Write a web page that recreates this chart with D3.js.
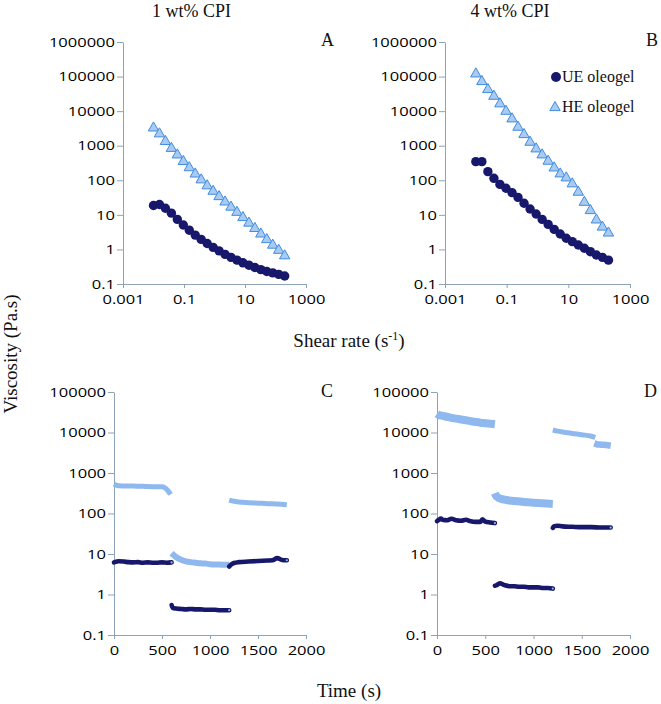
<!DOCTYPE html>
<html><head><meta charset="utf-8">
<script src="https://cdn.jsdelivr.net/npm/d3@7"></script>
<style>body{margin:0;background:#fff}</style>
</head><body>
<svg id="chart" width="661" height="704"></svg>
<script>
// ---------- DATA ----------
const shearRate = [0.01, 0.0157, 0.0246, 0.0386, 0.0605, 0.095, 0.149, 0.2335, 0.366, 0.575, 0.902, 1.414, 2.218, 3.479, 5.458, 8.562, 13.43, 21.06, 33.04, 51.83, 81.28, 127.5, 200];
const ue1 = [18.6, 20, 15.5, 11.2, 7.4, 5.1, 3.6, 2.6, 1.95, 1.48, 1.15, 0.91, 0.72, 0.59, 0.49, 0.41, 0.35, 0.30, 0.26, 0.23, 0.21, 0.19, 0.17];
const he1 = [3390, 2290, 1380, 870, 562, 363, 240, 158, 107, 72, 50, 35, 24.5, 17.4, 12.3, 8.7, 6.0, 4.2, 2.9, 2.0, 1.38, 0.98, 0.68];
const ue4 = [346, 346, 178, 114, 76, 59, 44, 32, 21.6, 14.8, 10.6, 7.4, 5.3, 3.8, 2.8, 2.1, 1.68, 1.34, 1.08, 0.86, 0.69, 0.59, 0.49];
const he4 = [124000, 74600, 43800, 28000, 16900, 10300, 6200, 3560, 2180, 1310, 840, 564, 370, 237, 159, 122, 82, 47, 24, 13.8, 7.4, 4.6, 3.1];

// time sweeps (panel C, 1 wt%)
const tC_he1 = [0, 20, 50, 100, 150, 200, 250, 300, 350, 400, 450, 500, 530, 560, 590];
const vC_he1 = [530, 500, 485, 480, 478, 476, 472, 468, 462, 458, 455, 455, 430, 370, 295];
const tC_he2 = [600, 620, 650, 700, 750, 800, 850, 900, 950, 1000, 1050, 1100, 1150, 1200];
const vC_he2 = [10.5, 9.5, 8.3, 7.2, 6.6, 6.3, 6.1, 5.9, 5.8, 5.6, 5.5, 5.5, 5.4, 5.4];
const tC_he3 = [1200, 1250, 1300, 1400, 1500, 1600, 1700, 1800];
const vC_he3 = [215, 200, 192, 185, 180, 175, 172, 165];
const tC_ue1 = [0, 50, 100, 150, 200, 250, 300, 350, 400, 450, 500, 550, 600];
const vC_ue1 = [6.2, 6.6, 6.5, 6.3, 6.2, 6.3, 6.1, 6.2, 6.1, 6.1, 6.2, 6.1, 6.2];
const tC_ue2 = [600, 610, 650, 700, 750, 800, 850, 900, 950, 1000, 1050, 1100, 1150, 1200];
const vC_ue2 = [0.55, 0.47, 0.45, 0.44, 0.43, 0.44, 0.43, 0.43, 0.42, 0.42, 0.42, 0.41, 0.41, 0.41];
const tC_ue3 = [1200, 1220, 1250, 1300, 1400, 1500, 1600, 1650, 1700, 1750, 1800];
const vC_ue3 = [4.9, 5.5, 6.0, 6.3, 6.5, 6.7, 6.9, 7.0, 7.9, 7.1, 7.0];

// time sweeps (panel D, 4 wt%)
const tD_he1 = [0, 20, 50, 100, 150, 200, 250, 300, 350, 400, 450, 500, 550, 600];
const vD_he1 = [29000, 27000, 26000, 24500, 23000, 22000, 21000, 20000, 19000, 18200, 17500, 17000, 16500, 16000];
const tD_he2 = [600, 610, 630, 660, 700, 750, 800, 900, 1000, 1100, 1200];
const vD_he2 = [320, 280, 250, 232, 220, 210, 203, 193, 185, 178, 172];
const tD_he3 = [1200, 1250, 1300, 1400, 1500, 1600, 1640];
const vD_he3 = [11500, 10800, 10300, 9500, 8800, 8100, 7600];
const tD_he4 = [1630, 1650, 1700, 1750, 1800];
const vD_he4 = [5400, 5200, 5000, 4900, 4700];
const tD_ue1 = [0, 20, 40, 60, 100, 150, 200, 250, 300, 350, 400, 450, 470, 500, 550, 600];
const vD_ue1 = [65, 70, 75, 70, 68, 74, 68, 66, 70, 64, 62, 62, 72, 63, 60, 58];
const tD_ue2 = [600, 620, 650, 700, 750, 800, 850, 900, 950, 1000, 1050, 1100, 1150, 1200];
const vD_ue2 = [1.65, 1.7, 1.9, 1.7, 1.6, 1.6, 1.55, 1.55, 1.5, 1.5, 1.5, 1.45, 1.45, 1.4];
const tD_ue3 = [1200, 1210, 1250, 1300, 1400, 1500, 1600, 1700, 1800];
const vD_ue3 = [44, 48, 50, 48, 47, 46, 46, 45, 45];

// tick labels
const shearTicks = [0.001, 0.1, 10, 1000];
const viscTicksTop = [0.1, 1, 10, 100, 1000, 10000, 100000, 1000000];
const viscTicksBottom = [0.1, 1, 10, 100, 1000, 10000, 100000];
const timeTicks = [0, 500, 1000, 1500, 2000];
const seriesNames = ["UE oleogel", "HE oleogel"];

// ---------- STYLE ----------
const AXIS = "#8ea3b5";
const UE_COLOR = "#17176b";
const HE_FILL = "#a9cbf2";
const HE_STROKE = "#3f8be0";
const HE_LINE = "#8fb9ee";
const SERIF = "'Liberation Serif','Times New Roman',serif";
const SANS = "'Open Sans','Liberation Sans',sans-serif";

const svg = d3.select("#chart");

function styleAxis(g) {
  g.select(".domain").attr("stroke", AXIS).attr("stroke-width", 1);
  g.selectAll(".tick line").attr("stroke", AXIS);
  g.selectAll(".tick text").attr("fill", "#000").style("font-family", SANS).style("font-size", "13px");
  g.selectAll(".tick text").each(function () {
    const w = this.getComputedTextLength();
    d3.select(this).attr("textLength", w * 1.27).attr("lengthAdjust", "spacingAndGlyphs");
  });
}

function makeAxes(x, y, xTicks, yTicks, xFmt) {
  const xb = y.range()[0];
  const xl = x.range()[0];
  svg.append("g").attr("transform", `translate(0,${xb})`)
    .call(d3.axisBottom(x).tickValues(xTicks).tickFormat(xFmt).tickSize(4).tickSizeOuter(0).tickPadding(7))
    .call(styleAxis);
  svg.append("g").attr("transform", `translate(${xl},0)`)
    .call(d3.axisLeft(y).tickValues(yTicks).tickFormat(d => String(d)).tickSize(6).tickSizeOuter(0).tickPadding(2))
    .call(styleAxis);
}

const triPath = "M0,-5.5L5.2,3.6L-5.2,3.6Z";

// ---------- FLOW PANELS (A, B) ----------
function flowPanel(x0, x1, ue, he) {
  const x = d3.scaleLog().domain([0.001, 1000]).range([x0, x1]);
  const y = d3.scaleLog().domain([0.1, 1000000]).range([284, 42]);
  makeAxes(x, y, shearTicks, viscTicksTop, d => String(d));
  svg.append("g").selectAll("circle").data(shearRate.map((s, i) => [s, ue[i]]))
    .join("circle").attr("cx", d => x(d[0])).attr("cy", d => y(d[1])).attr("r", 4.7)
    .attr("fill", UE_COLOR);
  svg.append("g").selectAll("path").data(shearRate.map((s, i) => [s, he[i]]))
    .join("path").attr("d", triPath)
    .attr("transform", d => `translate(${x(d[0])},${y(d[1])})`)
    .attr("fill", HE_FILL).attr("stroke", HE_STROKE).attr("stroke-width", 1);
}
flowPanel(123, 306, ue1, he1);
flowPanel(445, 630, ue4, he4);

// ---------- TIME PANELS (C, D) ----------
function timePanel(x0, x1, heSegs, ueSegs, heWidths) {
  const x = d3.scaleLinear().domain([0, 2000]).range([x0, x1]);
  const y = d3.scaleLog().domain([0.1, 100000]).range([635, 392]);
  makeAxes(x, y, timeTicks, viscTicksBottom, d => String(d));
  const line = d3.line().x(d => x(d[0])).y(d => y(d[1])).curve(d3.curveMonotoneX);
  const g = svg.append("g");
  heSegs.forEach(([t, v], k) => {
    g.append("path").datum(t.map((ti, i) => [ti, v[i]])).attr("d", line)
      .attr("fill", "none").attr("stroke", HE_LINE).attr("stroke-width", heWidths[k])
      .attr("stroke-linejoin", "round").attr("stroke-linecap", "butt");
  });
  ueSegs.forEach(([t, v]) => {
    const pts = t.map((ti, i) => [ti, v[i]]);
    g.append("path").datum(pts).attr("d", line)
      .attr("fill", "none").attr("stroke", UE_COLOR).attr("stroke-width", 4.6)
      .attr("stroke-linejoin", "round").attr("stroke-linecap", "round");
    const last = pts[pts.length - 1];
    g.append("circle").attr("cx", x(last[0])).attr("cy", y(last[1])).attr("r", 1.1).attr("fill", HE_LINE);
  });
}
timePanel(114, 306,
  [[tC_he1, vC_he1], [tC_he2, vC_he2], [tC_he3, vC_he3]],
  [[tC_ue1, vC_ue1], [tC_ue2, vC_ue2], [tC_ue3, vC_ue3]], [5, 6, 5]);
timePanel(437, 630,
  [[tD_he1, vD_he1], [tD_he2, vD_he2], [tD_he3, vD_he3], [tD_he4, vD_he4]],
  [[tD_ue1, vD_ue1], [tD_ue2, vD_ue2], [tD_ue3, vD_ue3]], [8, 8, 5, 6.5]);

// ---------- TEXT ----------
function txt(x, y, s, size, anchor) {
  return svg.append("text").attr("x", x).attr("y", y).text(s)
    .attr("text-anchor", anchor || "middle").style("font-family", SERIF)
    .style("font-size", size + "px").attr("fill", "#111");
}
txt(191.5, 17, "1 wt% CPI", 18);
txt(510, 17, "4 wt% CPI", 18);
txt(321, 46, "A", 18, "start");
txt(646, 46, "B", 18, "start");
txt(321, 397, "C", 18, "start");
txt(644, 397, "D", 18, "start");

// legend
svg.append("circle").attr("cx", 556).attr("cy", 77).attr("r", 5).attr("fill", UE_COLOR);
txt(562, 82, seriesNames[0], 16, "start");
svg.append("path").attr("d", triPath).attr("transform", "translate(555,107)")
  .attr("fill", HE_FILL).attr("stroke", HE_STROKE);
txt(562, 112, seriesNames[1], 16, "start");

// axis titles
svg.append("text").attr("transform", "translate(17,354) rotate(-90)")
  .attr("text-anchor", "middle").style("font-family", SERIF).style("font-size", "19px")
  .attr("fill", "#111").text("Viscosity (Pa.s)");
const sr = svg.append("text").attr("x", 349).attr("y", 347).attr("text-anchor", "middle")
  .style("font-family", SERIF).style("font-size", "19px").attr("fill", "#111");
sr.append("tspan").text("Shear rate (s");
sr.append("tspan").attr("dy", -7).style("font-size", "12px").text("-1");
sr.append("tspan").attr("dy", 7).text(")");
txt(349, 697, "Time (s)", 19);
</script>
</body></html>
